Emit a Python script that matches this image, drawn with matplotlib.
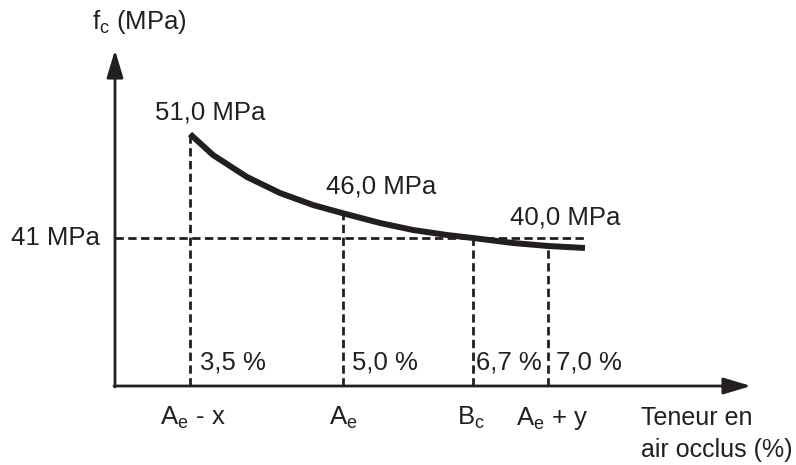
import numpy as np
import matplotlib.pyplot as plt

plt.rcParams['font.family'] = ['Liberation Sans', 'DejaVu Sans']
plt.rcParams['mathtext.fontset'] = 'custom'
plt.rcParams['mathtext.rm'] = 'Liberation Sans'
plt.rcParams['mathtext.it'] = 'Liberation Sans'

# schematic diagram: axis positions are not to scale
curve_x = [0.75, 0.98, 1.32, 1.65, 1.98, 2.27, 2.65, 2.98, 3.32, 3.58, 3.98, 4.33, 4.70]
curve_y = [2.52, 2.31, 2.09, 1.93, 1.81, 1.73, 1.63, 1.56, 1.51, 1.48, 1.43, 1.40, 1.38]

mark_x = [0.75, 2.28, 3.58, 4.33]
mark_top = [2.52, 1.73, 1.48, 1.40]
air_labels = ['3,5 %', '5,0 %', '6,7 %', '7,0 %']
axis_labels = [r'A$_\mathrm{e}$ - x', r'A$_\mathrm{e}$', r'B$_\mathrm{c}$', r'A$_\mathrm{e}$ + y']

fc_labels = ['51,0 MPa', '46,0 MPa', '40,0 MPa']

ref_level = 1.48
ref_label = '41 MPa'

# label placement (layout only)
fc_label_xy = [(0.40, 2.74), (2.11, 2.00), (3.95, 1.69)]
air_label_dx = [0.10, 0.09, 0.03, 0.08]
axis_label_dx = [0.03, 0.0, -0.02, 0.04]

ink = '#231f20'
fs = 18.5

fig = plt.figure(figsize=(7.96, 4.65), dpi=100)
ax = fig.add_axes([0, 0, 1, 1])
ax.set_xlim(-1.15, 6.81)
ax.set_ylim(-0.79, 3.86)
ax.axis('off')

# axes with arrows
arr = dict(arrowstyle='-|>,head_length=0.6,head_width=0.18', mutation_scale=28,
           lw=2.0, color=ink, shrinkA=0, shrinkB=0)
ax.annotate('', xy=(6.36, 0), xytext=(-0.01, 0), arrowprops=arr)
ax.annotate('', xy=(0, 3.36), xytext=(0, -0.01), arrowprops=arr)

# dashed guides
dash = (0, (3, 1.6))
ax.plot([0, curve_x[-1]], [ref_level, ref_level], color=ink, lw=2.0, linestyle=dash)
ax.vlines(mark_x, 0, mark_top, colors=ink, lw=2.0, linestyles=[dash])

# curve
ax.plot(curve_x, curve_y, color=ink, lw=4.3, solid_capstyle='butt', solid_joinstyle='round')

for lab, (x, y) in zip(fc_labels, fc_label_xy):
    ax.text(x, y, lab, fontsize=fs, color=ink, ha='left', va='center')

ax.text(-0.15, ref_level, ref_label, fontsize=fs, color=ink, ha='right', va='center')

for x, dx, lab in zip(mark_x, air_label_dx, air_labels):
    ax.text(x + dx, 0.24, lab, fontsize=fs, color=ink, ha='left', va='center')

for x, dx, lab in zip(mark_x, axis_label_dx, axis_labels):
    ax.text(x + dx, -0.32, lab, fontsize=fs, color=ink, ha='center', va='center')

ax.text(5.26, -0.32, 'Teneur en', fontsize=18, color=ink, ha='left', va='center')
ax.text(5.26, -0.64, 'air occlus (%)', fontsize=18, color=ink, ha='left', va='center')

ax.text(-0.23, 3.64, r'f$_\mathrm{c}$ (MPa)', fontsize=fs, color=ink, ha='left', va='center')

fig.savefig('out.png', dpi=100)
